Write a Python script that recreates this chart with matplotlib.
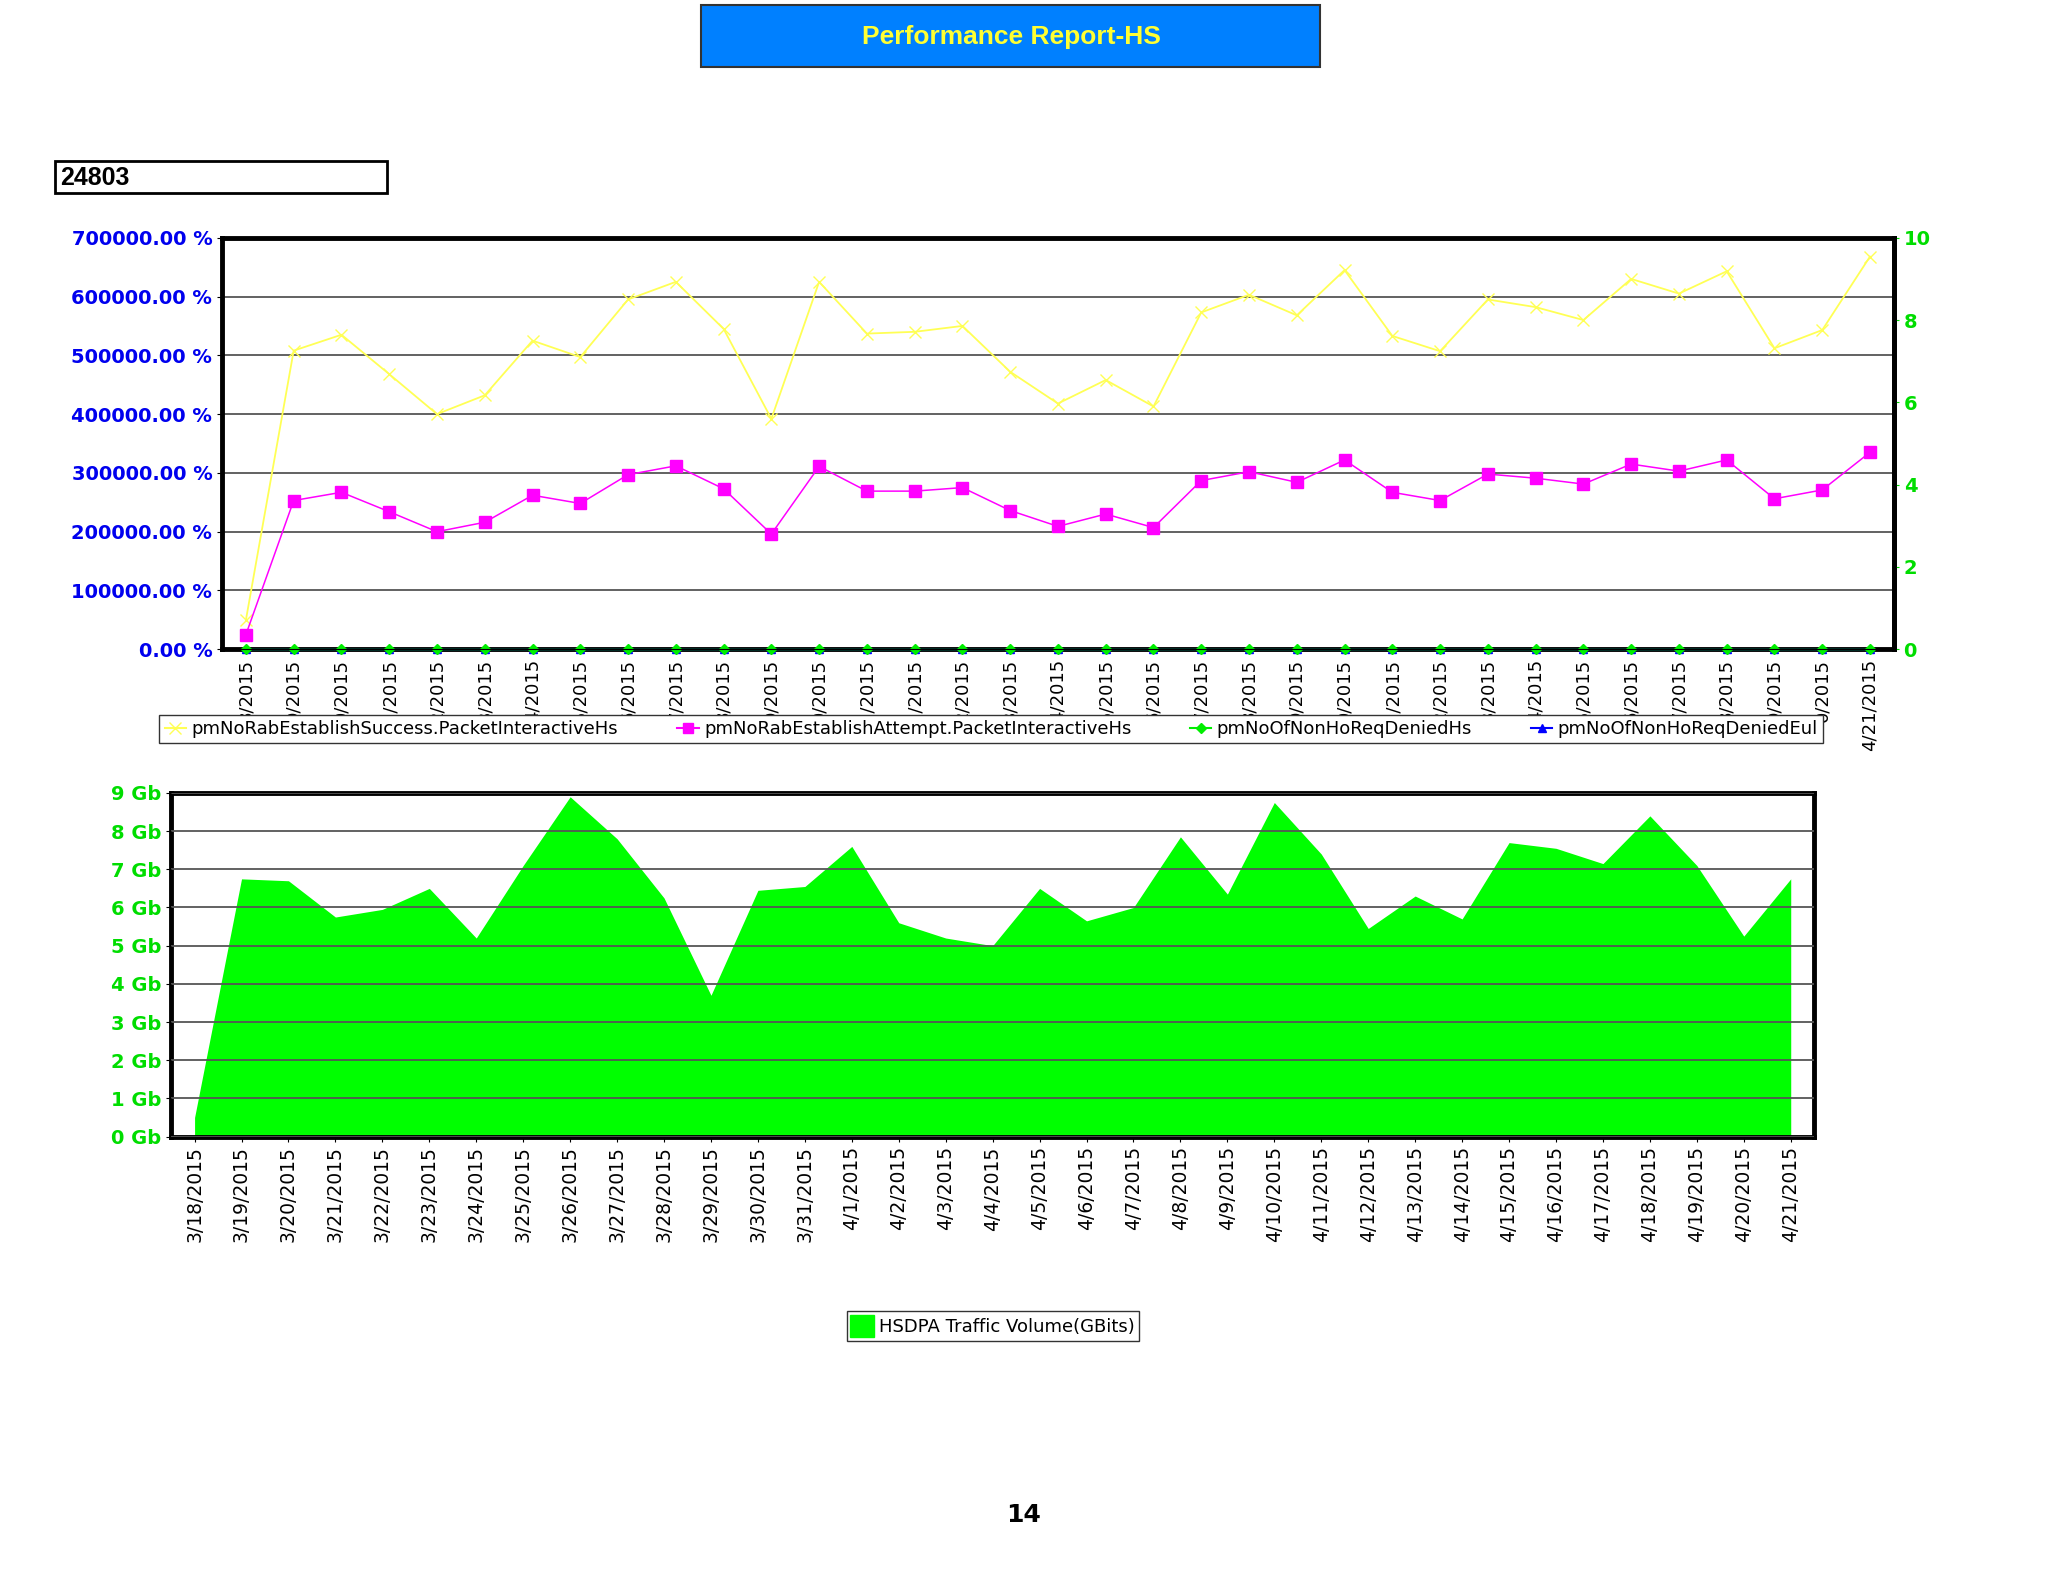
import matplotlib.pyplot as plt
from matplotlib.patches import Rectangle
from matplotlib.lines import Line2D
from matplotlib.patches import Patch

# Dates 3/18/2015 .. 4/21/2015
dates = ['3/%d/2015' % d for d in range(18, 32)] + ['4/%d/2015' % d for d in range(1, 22)]

success = [50000, 508000, 535000, 468000, 400000, 432000, 525000, 497000, 595000, 625000,
           545000, 392000, 625000, 537000, 540000, 550000, 472000, 418000, 458000, 413000,
           573000, 603000, 568000, 645000, 533000, 507000, 595000, 582000, 560000, 630000,
           605000, 643000, 512000, 543000, 668000]
attempt = [25000, 253000, 267000, 234000, 200000, 216000, 262000, 248000, 297000, 312000,
           273000, 196000, 311000, 269000, 269000, 275000, 236000, 209000, 230000, 207000,
           287000, 302000, 284000, 322000, 267000, 253000, 298000, 291000, 281000, 315000,
           303000, 322000, 256000, 271000, 335000]
denied_hs = [0] * 35
denied_eul = [0] * 35
traffic = [0.5, 6.75, 6.7, 5.75, 5.95, 6.5, 5.2, 7.1, 8.9, 7.8, 6.25, 3.7, 6.45, 6.55, 7.6,
           5.6, 5.2, 5.0, 6.5, 5.65, 6.0, 7.85, 6.35, 8.75, 7.4, 5.45, 6.3, 5.7, 7.7, 7.55,
           7.15, 8.4, 7.1, 5.25, 6.75]

W, H = 1568.0, 1211.0
def fx(px): return px / W
def fy(py): return 1 - py / H

fig = plt.figure(figsize=(20.48, 15.82), dpi=100)
fig.patch.set_facecolor('white')

# title box
fig.patches.append(Rectangle((fx(537), fy(51)), fx(1011) - fx(537), fy(4) - fy(51),
                             transform=fig.transFigure, facecolor='#0080FF', edgecolor='#333333', lw=1.5))
fig.text(fx(774), fy(28), 'Performance Report-HS', color='#FFFF33', fontsize=19,
         fontweight='bold', ha='center', va='center', family='Liberation Sans')
# site id box
fig.patches.append(Rectangle((fx(42), fy(148)), fx(296) - fx(42), fy(123) - fy(148),
                             transform=fig.transFigure, facecolor='white', edgecolor='black', lw=2))
fig.text(fx(46), fy(136), '24803', fontsize=18, fontweight='bold', va='center', family='Liberation Sans')

x = list(range(len(dates)))

# ---- top chart
ax = fig.add_axes([fx(170), fy(497), fx(1450) - fx(170), fy(182) - fy(497)])
ax.plot(x, success, color='#FFFF55', marker='x', ms=9, lw=1.3)
ax.plot(x, attempt, color='#FF00FF', marker='s', ms=8, lw=1.1)
ax.set_xlim(-0.5, 34.5)
ax.set_ylim(0, 700000)
ax.set_yticks(range(0, 700001, 100000))
ax.set_yticklabels(['%.2f %%' % v for v in range(0, 700001, 100000)], color='#0000EE',
                   fontsize=14, fontweight='bold')
ax.yaxis.grid(True, color='#555555', lw=1.3)
ax.set_axisbelow(True)
ax.set_xticks(x)
# labels are cut by the legend in the original, only the tail shows
ax.set_xticklabels([d[-6:] for d in dates[:-1]] + [dates[-1]], rotation=90, fontsize=13, va='top')
for s in ax.spines.values():
    s.set_linewidth(3.5)
ax2 = ax.twinx()
ax2.plot(x, denied_eul, color='blue', marker='^', ms=6, lw=1, clip_on=False)
ax2.plot(x, denied_hs, color='#00EE00', marker='D', ms=5, lw=1, clip_on=False)
ax2.set_ylim(0, 10)
ax2.set_yticks(range(0, 11, 2))
ax2.tick_params(axis='y', colors='#00DD00', labelsize=14)
for lbl in ax2.get_yticklabels():
    lbl.set_fontweight('bold')
ax2.spines['right'].set_linewidth(3.5)

handles = [Line2D([], [], color='#FFFF55', marker='x', ms=8),
           Line2D([], [], color='#FF00FF', marker='s', ms=7),
           Line2D([], [], color='#00EE00', marker='D', ms=5),
           Line2D([], [], color='blue', marker='^', ms=6)]
names = ['pmNoRabEstablishSuccess.PacketInteractiveHs', 'pmNoRabEstablishAttempt.PacketInteractiveHs',
         'pmNoOfNonHoReqDeniedHs', 'pmNoOfNonHoReqDeniedEul']
leg = fig.legend(handles, names, loc='lower left', ncol=4, mode='expand',
                 bbox_to_anchor=(fx(115), fy(576), fx(1403) - fx(115), fy(548) - fy(576)),
                 fontsize=13, frameon=True, fancybox=False, edgecolor='#333333', framealpha=1,
                 handlelength=1.2, handletextpad=0.3, columnspacing=0.6, borderpad=0.3)
leg.get_frame().set_linewidth(1)

# ---- bottom chart
bx = fig.add_axes([fx(131), fy(870), fx(1389) - fx(131), fy(607) - fy(870)])
bx.fill_between(x, traffic, color='#00FF00', lw=0)
bx.set_xlim(-0.5, 34.5)
bx.set_ylim(0, 9)
bx.set_yticks(range(10))
bx.set_yticklabels(['%d Gb' % v for v in range(10)], color='#00DD00', fontsize=14, fontweight='bold')
bx.yaxis.grid(True, color='#555555', lw=1.3)
bx.set_axisbelow(False)
bx.set_xticks(x)
bx.set_xticklabels(dates, rotation=90, fontsize=13.5)
for s in bx.spines.values():
    s.set_linewidth(3.5)
leg2 = fig.legend([Patch(color='#00FF00')], ['HSDPA Traffic Volume(GBits)'], loc='center',
                  bbox_to_anchor=(fx(760), fy(1015)), fontsize=13, frameon=True, fancybox=False,
                  edgecolor='#333333', framealpha=1, handlelength=1.3, handleheight=1.5,
                  handletextpad=0.3, borderpad=0.2)

fig.text(fx(784), fy(1160), '14', fontsize=18, fontweight='bold', ha='center', va='center')

fig.savefig('out.png', dpi=100)
